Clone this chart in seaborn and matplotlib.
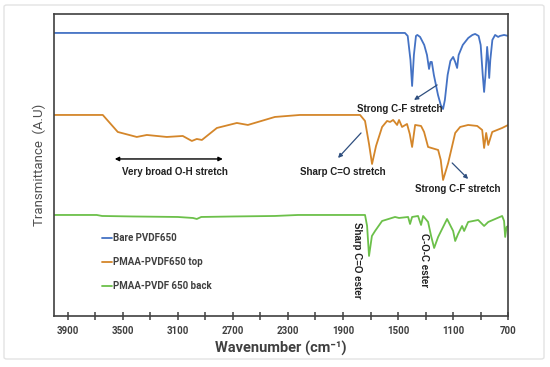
import numpy as np
import pandas as pd
import matplotlib
matplotlib.use("Agg")
import matplotlib.pyplot as plt
from matplotlib.patches import FancyBboxPatch
import seaborn as sns

# ---- data (wavenumber in cm^-1, transmittance in arbitrary units) ----
bare_wn = [4000, 1450, 1430, 1410, 1398, 1385, 1370, 1360, 1340, 1310, 1290, 1275, 1265,
           1255, 1240, 1210, 1190, 1173, 1160, 1140, 1120, 1100, 1085, 1071, 1060, 1030,
           990, 960, 940, 915, 900, 885, 875, 865, 853, 845, 838, 830, 815, 795, 773, 760,
           730, 700]
bare_T = [283, 283, 280, 256, 230, 261, 280, 281, 279, 271, 261, 247, 254,
          254, 241, 221, 211, 207, 216, 241, 255, 259, 254, 248, 261, 271,
          278, 281, 282, 280, 271, 241, 224, 241, 269, 256, 238, 256, 276, 281, 279, 280,
          281, 280]

top_wn = [4000, 3645, 3536, 3398, 3325, 3180, 3064, 2998, 2962, 2925, 2816, 2671, 2591,
          2395, 2213, 2009, 1776, 1740, 1711, 1689, 1660, 1616, 1580, 1558, 1536, 1507,
          1493, 1471, 1435, 1415, 1398, 1376, 1333, 1311, 1282, 1209, 1190, 1173, 1136,
          1085, 1049, 991, 925, 889, 875, 860, 845, 816, 744, 700]
top_T = [201, 201, 184, 179, 181, 179, 180, 175, 177, 176, 188, 193, 191,
         199, 201, 201, 201, 195, 172, 152, 170, 189, 195, 194, 196, 191,
         196, 189, 192, 182, 169, 191, 190, 184, 169, 166, 156, 136, 153,
         183, 189, 191, 190, 186, 168, 183, 171, 184, 188, 191]

back_wn = [4000, 3689, 3650, 3427, 3100, 2990, 2962, 2930, 2700, 2395, 2227, 1740,
           1725, 1711, 1690, 1667, 1616, 1522, 1493, 1427, 1413, 1398, 1355, 1333,
           1318, 1282, 1260, 1238, 1209, 1144, 1122, 1100, 1085, 1064, 1035, 1020,
           991, 918, 875, 845, 744, 730, 722, 712, 700]
back_T = [101, 101, 100, 99.5, 99, 98, 97, 99, 99.5, 100, 101, 101,
          90, 60, 80, 85, 95, 99, 98, 99, 92, 99, 100, 91,
          100, 94, 80, 68, 79, 97, 91, 85, 75, 82, 90, 85,
          94, 96, 90, 94, 100, 95, 79, 89, 90]

series_names = ["Bare PVDF650", "PMAA-PVDF650 top", "PMAA-PVDF 650 back"]
colors = ["#4472C4", "#D4862A", "#6CC04A"]

df = pd.concat([
    pd.DataFrame({"wn": bare_wn, "T": bare_T, "series": series_names[0]}),
    pd.DataFrame({"wn": top_wn, "T": top_T, "series": series_names[1]}),
    pd.DataFrame({"wn": back_wn, "T": back_T, "series": series_names[2]}),
], ignore_index=True)

sns.set_theme(style="white")
plt.rcParams["font.family"] = ["Roboto", "DejaVu Sans"]

fig = plt.figure(figsize=(5.5, 3.67), dpi=100)
ax = fig.add_axes([0.098, 0.139, 0.826, 0.823])

sns.lineplot(data=df, x="wn", y="T", hue="series", palette=colors,
             hue_order=series_names, estimator=None, sort=True,
             linewidth=1.3, ax=ax)

ax.set_xlim(4000, 700)
ax.set_ylim(0, 302)
ax.set_yticks([])
ax.set_xticks([3900, 3500, 3100, 2700, 2300, 1900, 1500, 1100, 700])
ax.set_xticks([3700, 3300, 2900, 2500, 2100, 1700, 1300, 900], minor=True)
ax.tick_params(axis="x", which="both", direction="inout", length=6, width=1.1,
               color="#404040", bottom=True, labelsize=7, labelcolor="#404040", pad=4)
for lab in ax.get_xticklabels():
    lab.set_fontweight("bold")
for s in ax.spines.values():
    s.set_color("#404040")
    s.set_linewidth(1.2)

ax.set_xlabel("Wavenumber (cm\u207b\u00b9)", fontsize=10.5, color="#404040",
              fontweight="bold", labelpad=4)
ax.set_ylabel("Transmittance  (A.U)", fontsize=9.5, color="#505050", labelpad=6)

leg = ax.legend(loc="upper left", bbox_to_anchor=(0.095, 0.29), frameon=False,
                handlelength=1.0, handletextpad=0.1, labelspacing=1.45,
                borderpad=0, fontsize=7)
for t in leg.get_texts():
    t.set_color("#404040")
    t.set_fontweight("bold")

akw = dict(fontsize=7, fontweight="bold", color="#202020",
           family=["Liberation Sans", "DejaVu Sans"], ha="center", va="center")
arrow_col = "#2F4F7F"
ap = dict(arrowstyle="-|>", color=arrow_col, lw=0.9, mutation_scale=6,
          shrinkA=0, shrinkB=0)

ax.text(1485, 207, "Strong C-F stretch", **akw)
ax.annotate("", xy=(1384, 216), xytext=(1216, 231), arrowprops=ap)

ax.text(3122, 144, "Very broad O-H stretch", **akw)
ax.annotate("", xy=(3558, 157), xytext=(2773, 157),
            arrowprops=dict(arrowstyle="<|-|>", color="#000000", lw=1.0,
                            mutation_scale=6, shrinkA=0, shrinkB=0))

ax.text(1900, 144, "Sharp C=O stretch", **akw)
ax.annotate("", xy=(1936, 158), xytext=(1769, 183), arrowprops=ap)

ax.text(1064, 127, "Strong C-F stretch", **akw)
ax.annotate("", xy=(991, 137), xytext=(1107, 153), arrowprops=ap)

ax.text(1798, 56, "Sharp C=O ester", rotation=270, **akw)
ax.text(1311, 56, "C-O-C ester", rotation=270, **akw)

# light frame around the whole figure
frame = FancyBboxPatch((4 / 550, 8 / 367), 540 / 550, 354 / 367,
                       boxstyle="round,pad=0,rounding_size=0.005",
                       transform=fig.transFigure, fill=False,
                       edgecolor="#E3E3E3", linewidth=1.0)
fig.patches.append(frame)

fig.savefig("out.png", dpi=100)
